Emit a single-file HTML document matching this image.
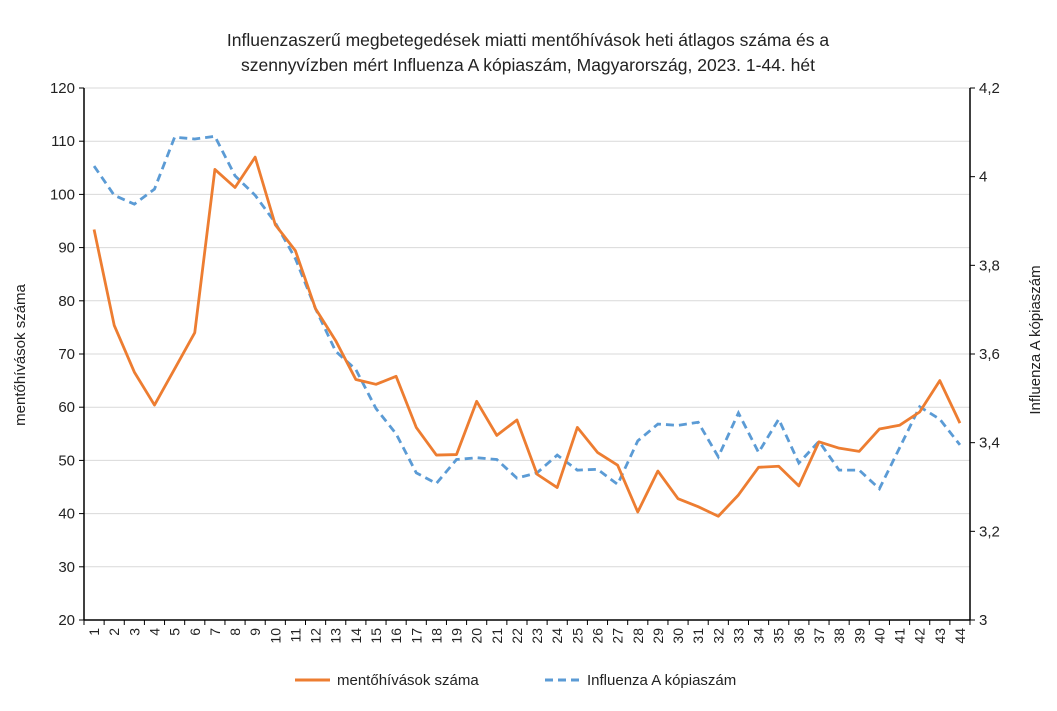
<!DOCTYPE html>
<html><head><meta charset="utf-8"><style>
body{margin:0;background:#fff;font-family:"Liberation Sans",sans-serif;}
svg text{font-family:"Liberation Sans",sans-serif;fill:#222;}
</style></head><body>
<svg width="1057" height="706">
<g id="g"></g>
</svg>
<script>
const weeks=[1,2,3,4,5,6,7,8,9,10,11,12,13,14,15,16,17,18,19,20,21,22,23,24,25,26,27,28,29,30,31,32,33,34,35,36,37,38,39,40,41,42,43,44];
const calls=[93.4,75.4,66.6,60.4,67.2,74,104.7,101.3,107,94.3,89.4,78.5,72.5,65.2,64.3,65.8,56.2,51,51.1,61.1,54.7,57.6,47.4,44.9,56.2,51.5,49.1,40.3,48,42.8,41.3,39.5,43.5,48.7,48.9,45.2,53.5,52.3,51.7,55.9,56.6,59.1,65,57];
const copies=[4.024,3.958,3.938,3.972,4.089,4.085,4.091,4.002,3.958,3.896,3.815,3.702,3.606,3.565,3.477,3.420,3.332,3.308,3.362,3.366,3.362,3.320,3.332,3.372,3.338,3.340,3.306,3.404,3.442,3.439,3.446,3.368,3.467,3.378,3.453,3.354,3.403,3.338,3.338,3.296,3.388,3.481,3.453,3.395];
const leftTicks=[20,30,40,50,60,70,80,90,100,110,120];
const rightTicks=[3,3.2,3.4,3.6,3.8,4,4.2];
const rightLabels=["3","3,2","3,4","3,6","3,8","4","4,2"];
const L=84,R=970,T=88,B=620;
const ns="http://www.w3.org/2000/svg",g=document.getElementById('g');
function el(t,a,txt){const e=document.createElementNS(ns,t);for(const k in a)e.setAttribute(k,a[k]);if(txt!==undefined)e.textContent=txt;g.appendChild(e);return e;}
const bw=(R-L)/weeks.length;
const x=i=>L+(i+0.5)*bw;
const yL=v=>B-(v-20)/100*(B-T);
const yR=v=>B-(v-3)/1.2*(B-T);
leftTicks.forEach(v=>{
 let e=el('line',{x1:L,x2:R,y1:yL(v),y2:yL(v),stroke:'#d9d9d9','stroke-width':1});
 
 
 e=el('line',{x1:L-5,x2:L,y1:yL(v),y2:yL(v),stroke:'#000'});
 
 
 e=el('text',{x:L-9,y:yL(v)+5,'text-anchor':'end','font-size':15},v);
 
 
});
rightTicks.forEach((v,i)=>{
 let e=el('line',{x1:R,x2:R+5,y1:yR(v),y2:yR(v),stroke:'#000'});
 
 
 e=el('text',{x:R+9,y:yR(v)+5,'font-size':15},rightLabels[i]);
 
 
});
let a=el('line',{x1:L,x2:L,y1:T,y2:B,stroke:'#000','stroke-width':1.5});

a=el('line',{x1:R,x2:R,y1:T,y2:B,stroke:'#000','stroke-width':1.5});

a=el('line',{x1:L,x2:R,y1:B,y2:B,stroke:'#000','stroke-width':1.5});

for(let i=0;i<=weeks.length;i++){
 const e=el('line',{x1:L+i*bw,x2:L+i*bw,y1:B,y2:B+5,stroke:'#000'});
 
 
}
weeks.forEach((w,i)=>{
 const e=el('text',{x:0,y:0,'text-anchor':'end','font-size':14,transform:`translate(${x(i)+5},${B+8}) rotate(-90)`},w);
 
 
});
let s=el('polyline',{points:copies.map((v,i)=>x(i)+','+yR(v)).join(' '),fill:'none',stroke:'#5b9bd5','stroke-width':2.8,'stroke-dasharray':'8 5'});

s=el('polyline',{points:calls.map((v,i)=>x(i)+','+yL(v)).join(' '),fill:'none',stroke:'#ed7d31','stroke-width':2.8,'stroke-linejoin':'round'});

</script>
<svg style="position:absolute;left:0;top:0" width="1057" height="706">
<text x="528" y="46" text-anchor="middle" font-size="17.5">Influenzaszerű megbetegedések miatti mentőhívások heti átlagos száma és a</text>
<text x="528" y="71" text-anchor="middle" font-size="17.5">szennyvízben mért Influenza A kópiaszám, Magyarország, 2023. 1-44. hét</text>
<text transform="translate(25,355) rotate(-90)" text-anchor="middle" font-size="15">mentőhívások száma</text>
<text transform="translate(1040,340) rotate(-90)" text-anchor="middle" font-size="15">Influenza A kópiaszám</text>
<g>
<line x1="295" x2="330" y1="680" y2="680" stroke="#ed7d31" stroke-width="3"/>
<text x="337" y="685" font-size="15">mentőhívások száma</text></g>
<g>
<line x1="545" x2="580" y1="680" y2="680" stroke="#5b9bd5" stroke-width="3" stroke-dasharray="8 5"/>
<text x="587" y="685" font-size="15">Influenza A kópiaszám</text></g>
</svg>
</body></html>
